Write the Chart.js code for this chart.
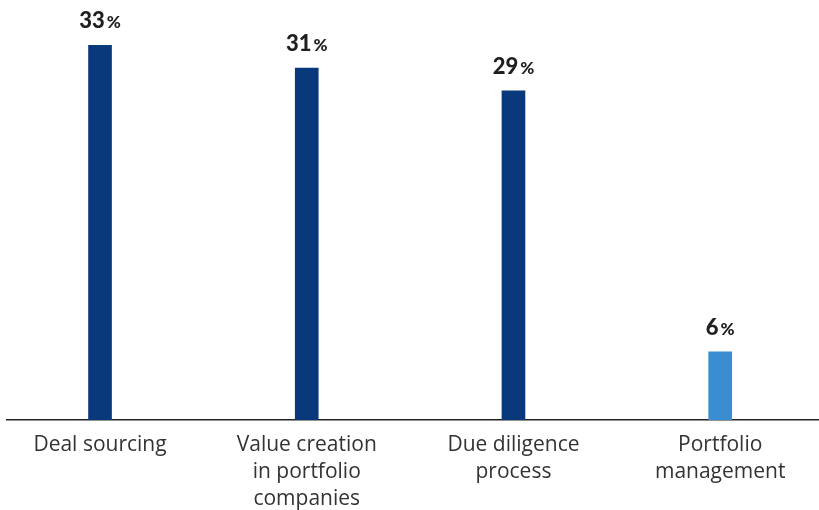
<!DOCTYPE html>
<html>
<head>
<meta charset="utf-8">
<script src="https://cdn.jsdelivr.net/npm/chart.js@4"></script>
<style>
  html, body { margin: 0; padding: 0; background: #fff; }
  .wrap { width: 819px; height: 510px; position: relative; }
</style>
</head>
<body>
<div class="wrap"><canvas id="gapChart"></canvas></div>
<script>
// ===== Data =====
const categories = [
  ['Deal sourcing'],
  ['Value creation', 'in portfolio', 'companies'],
  ['Due diligence', 'process'],
  ['Portfolio', 'management']
];
const shares = [33, 31, 29, 6];
const barColors = ['#0a397b', '#0a397b', '#0a397b', '#3a8dd0'];

const labelFont = "'Open Sans', 'Noto Sans', sans-serif";
const valueFont = "'Lato', 'Noto Sans', sans-serif";

// ===== Value labels above bars: "33%" with a smaller percent sign =====
const valueLabels = {
  id: 'valueLabels',
  afterDatasetsDraw(chart) {
    const ctx = chart.ctx;
    const meta = chart.getDatasetMeta(0);
    ctx.save();
    ctx.fillStyle = '#1f1f1f';
    ctx.textBaseline = 'alphabetic';
    meta.data.forEach((bar, i) => {
      const num = String(shares[i]);
      ctx.font = `900 22px ${valueFont}`;
      const wNum = ctx.measureText(num).width;
      ctx.font = `900 17px ${valueFont}`;
      const wPct = ctx.measureText('%').width;
      const gap = 2;
      const x0 = bar.x - (wNum + gap + wPct) / 2;
      const y = bar.y - 17;
      ctx.textAlign = 'left';
      ctx.font = `900 22px ${valueFont}`;
      ctx.fillText(num, x0, y);
      ctx.font = `900 17px ${valueFont}`;
      ctx.fillText('%', x0 + wNum + gap, y);
    });
    ctx.restore();
  }
};

new Chart(document.getElementById('gapChart'), {
  type: 'bar',
  data: {
    datasets: [{
      data: shares.map((v, i) => ({ x: i, y: v })),
      backgroundColor: barColors,
      barThickness: 23,
      borderWidth: 0
    }]
  },
  options: {
    responsive: true,
    maintainAspectRatio: false,
    animation: false,
    layout: { padding: { left: 7, right: 0, top: 0, bottom: 0 } },
    plugins: {
      legend: { display: false },
      tooltip: { enabled: false }
    },
    scales: {
      x: {
        type: 'linear',
        offset: false,
        min: -0.45,
        max: 3.478,
        afterBuildTicks: (s) => { s.ticks = categories.map((_, i) => ({ value: i })); },
        afterFit: (s) => { s.height = 90; },
        grid: { display: false, drawTicks: false },
        border: { display: true, color: '#222', width: 1.5 },
        ticks: {
          autoSkip: false,
          maxRotation: 0,
          padding: 12,
          color: '#333',
          font: { family: labelFont, size: 21, lineHeight: 27 / 21 },
          callback: (v) => categories[v]
        }
      },
      y: {
        display: false,
        min: 0,
        max: 37
      }
    }
  },
  plugins: [valueLabels]
});
</script>
</body>
</html>
